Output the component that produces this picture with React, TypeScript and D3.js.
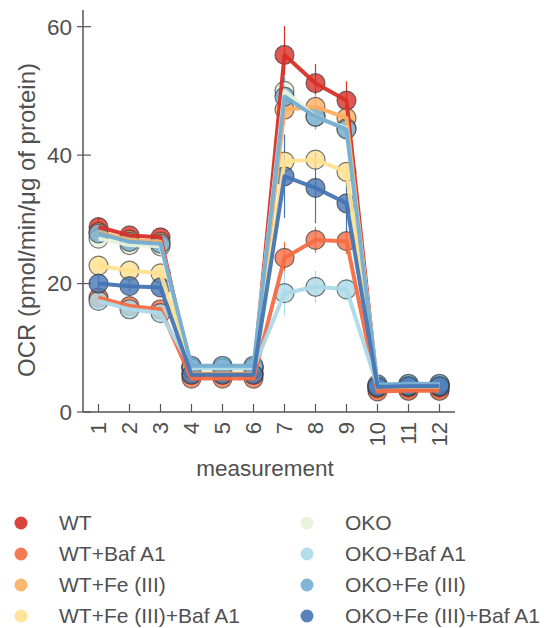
import * as d3 from "d3";

const measurements = [1, 2, 3, 4, 5, 6, 7, 8, 9, 10, 11, 12];
const yTicks = [0, 20, 40, 60];

const groups = [
  "WT",
  "WT+Baf A1",
  "WT+Fe (III)",
  "WT+Fe (III)+Baf A1",
  "OKO",
  "OKO+Baf A1",
  "OKO+Fe (III)",
  "OKO+Fe (III)+Baf A1",
];

const colors = [
  "#d73027",
  "#f46d43",
  "#fdae61",
  "#fee090",
  "#e6f2dc",
  "#abd9e9",
  "#74add1",
  "#4575b4",
];

// mean OCR per measurement
const wt = [28.8, 27.5, 27.2, 5.8, 5.8, 5.8, 55.6, 51.2, 48.5, 3.6, 3.6, 3.6];
const wtBaf = [17.8, 16.5, 16.0, 5.2, 5.2, 5.2, 24.0, 26.8, 26.6, 3.2, 3.3, 3.3];
const wtFe = [28.0, 26.8, 26.5, 6.0, 6.0, 6.0, 47.1, 47.5, 45.8, 3.8, 3.9, 3.9];
const wtFeBaf = [22.8, 22.0, 21.6, 6.8, 6.8, 6.8, 39.0, 39.3, 37.4, 4.0, 4.0, 4.0];
const oko = [27.0, 26.0, 25.8, 7.0, 7.0, 7.0, 50.0, 46.0, 44.2, 4.2, 4.3, 4.3];
const okoBaf = [17.3, 16.0, 15.4, 6.8, 6.8, 6.8, 18.5, 19.5, 19.1, 4.0, 4.1, 4.1];
const okoFe = [27.8, 26.5, 26.2, 7.2, 7.2, 7.2, 49.1, 46.0, 44.0, 4.3, 4.4, 4.4];
const okoFeBaf = [20.0, 19.6, 19.4, 5.8, 5.8, 5.8, 36.7, 34.9, 32.5, 3.9, 4.0, 4.0];

// error (sd) per measurement
const wtErr = [1.5, 0.8, 0.8, 0.4, 0.4, 0.4, 4.5, 3.0, 3.0, 0.4, 0.4, 0.4];
const wtBafErr = [0.8, 0.6, 0.6, 0.3, 0.3, 0.3, 2.5, 2.0, 2.0, 0.3, 0.3, 0.3];
const wtFeErr = [0.8, 0.6, 0.6, 0.3, 0.3, 0.3, 2.5, 2.0, 2.0, 0.3, 0.3, 0.3];
const wtFeBafErr = [0.8, 0.6, 0.6, 0.3, 0.3, 0.3, 2.0, 1.5, 1.5, 0.3, 0.3, 0.3];
const okoErr = [0.8, 0.6, 0.6, 0.3, 0.3, 0.3, 2.5, 2.0, 2.0, 0.3, 0.3, 0.3];
const okoBafErr = [0.8, 0.6, 0.6, 0.3, 0.3, 0.3, 3.5, 2.5, 1.5, 0.3, 0.3, 0.3];
const okoFeErr = [0.8, 0.6, 0.6, 0.3, 0.3, 0.3, 3.0, 2.0, 2.0, 0.3, 0.3, 0.3];
const okoFeBafErr = [1.2, 0.8, 0.8, 0.3, 0.3, 0.3, 6.5, 5.5, 4.5, 0.3, 0.3, 0.3];

const means = [wt, wtBaf, wtFe, wtFeBaf, oko, okoBaf, okoFe, okoFeBaf];
const errors = [wtErr, wtBafErr, wtFeErr, wtFeBafErr, okoErr, okoBafErr, okoFeErr, okoFeBafErr];

const width = 544;
const height = 628;
const font = "'Liberation Sans', Arial, sans-serif";
const textColor = "#505050";
const axisColor = "#555";

export default function App() {
  const x = d3.scaleLinear([0.5, 12.5], [83, 455]);
  const y = d3.scaleLinear([0, 62.6], [412, 10]);
  const line = d3
    .line<number>()
    .x((_, i) => x(measurements[i]))
    .y((d) => y(d));

  return (
    <svg
      width={width}
      height={height}
      style={{ position: "absolute", left: 0, top: 0 }}
      fontFamily={font}
    >
      {/* error bars */}
      {means.map((s, k) => (
        <g key={"e" + k} stroke={colors[k]} strokeWidth={1.2}>
          {s.map((v, i) => (
            <line
              key={i}
              x1={x(measurements[i])}
              x2={x(measurements[i])}
              y1={y(v - errors[k][i])}
              y2={y(v + errors[k][i])}
            />
          ))}
        </g>
      ))}
      {/* markers */}
      {means.map((s, k) => (
        <g key={"m" + k}>
          {s.map((v, i) => (
            <circle
              key={i}
              cx={x(measurements[i])}
              cy={y(v)}
              r={9.5}
              fill={colors[k]}
              fillOpacity={0.8}
              stroke="#333"
              strokeOpacity={0.65}
              strokeWidth={1.2}
            />
          ))}
        </g>
      ))}
      {/* lines */}
      {means.map((s, k) => (
        <path
          key={"l" + k}
          d={line(s) ?? ""}
          fill="none"
          stroke={colors[k]}
          strokeWidth={4}
          strokeLinejoin="round"
          opacity={0.95}
        />
      ))}

      {/* y axis */}
      <line x1={x(0.5)} x2={x(0.5)} y1={y.range()[1]} y2={y(0)} stroke={axisColor} strokeWidth={1.5} />
      {yTicks.map((t) => (
        <g key={t} transform={`translate(${x(0.5)},${y(t)})`}>
          <line x1={-6} x2={8} stroke={axisColor} strokeWidth={1.2} />
          <text x={-11} dy="0.35em" textAnchor="end" fontSize={22.5} fill={textColor}>
            {t}
          </text>
        </g>
      ))}
      <text
        transform={`translate(35,${(y(0) + y.range()[1]) / 2 + 9}) rotate(-90)`}
        textAnchor="middle"
        fontSize={24}
        fill={textColor}
      >
        OCR (pmol/min/μg of protein)
      </text>

      {/* x axis */}
      <line x1={x(0.5)} x2={x(12.5)} y1={y(0)} y2={y(0)} stroke={axisColor} strokeWidth={1.5} />
      {measurements.map((m) => (
        <g key={m} transform={`translate(${x(m)},${y(0)})`}>
          <line y1={0} y2={-8} stroke={axisColor} strokeWidth={1.2} />
          <text
            transform="translate(0,10) rotate(-90)"
            dy="0.35em"
            textAnchor="end"
            fontSize={22}
            fill={textColor}
          >
            {m}
          </text>
        </g>
      ))}
      <text x={(x(0.5) + x(12.5)) / 2 - 4} y={476} textAnchor="middle" fontSize={22.5} fill={textColor}>
        measurement
      </text>

      {/* legend */}
      {groups.map((g, k) => {
        const col = Math.floor(k / 4);
        const row = k % 4;
        const cx = col === 0 ? 21 : 307;
        const cy = 523 + row * 31;
        return (
          <g key={g}>
            <circle cx={cx} cy={cy} r={6.5} fill={colors[k]} fillOpacity={0.9} />
            <text x={cx + 38} y={cy} dy="0.35em" fontSize={21} fill={textColor}>
              {g}
            </text>
          </g>
        );
      })}
    </svg>
  );
}
